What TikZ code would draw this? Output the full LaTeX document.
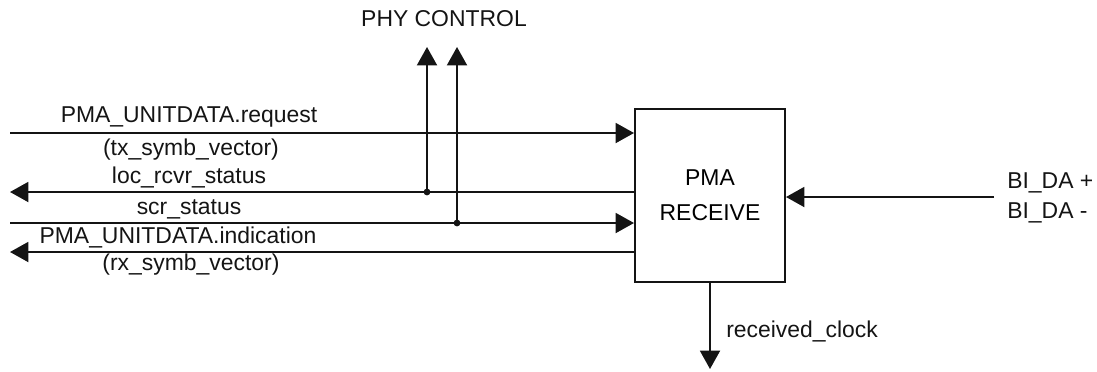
\documentclass[tikz,border=0pt]{standalone}
\usepackage{fontspec}
\setmainfont{Liberation Sans}
\usepackage{tikz}
\usetikzlibrary{positioning,arrows.meta,calc}
\definecolor{wire}{RGB}{20,20,20}
\tikzset{
  px/.style={x=0.025cm, y=-0.025cm},
  block/.style={draw=wire, line width=1.4pt, minimum width=3.75cm, minimum height=4.325cm,
                align=center, inner sep=0pt, font=\fontsize{16.3}{24.8}\selectfont},
  sig/.style={-{Triangle[length=4.6mm, width=5mm]}, line width=1.4pt, wire},
  lbl/.style={font=\fontsize{16.3}{21.3}\selectfont, inner sep=0pt, text=wire},
  tap/.style={circle, fill=wire, inner sep=0pt, minimum size=1.7mm}
}

\begin{document}
\begin{tikzpicture}[px]
\useasboundingbox (0,0) rectangle (1097,371);
\node[block] (pma) at (710,195.5) {PMA\\RECEIVE};
% left side signals
\coordinate (reqL) at (10,133);
\coordinate (locL) at (10,192);
\coordinate (scrL) at (10,223);
\coordinate (indL) at (10,252);
\draw[sig] (reqL) -- (reqL -| pma.west);
\draw[sig] (locL -| pma.west) -- (locL);
\draw[sig] (scrL) -- (scrL -| pma.west);
\draw[sig] (indL -| pma.west) -- (indL);
% phy control taps
\node[tap] (tapA) at (427,192) {};
\node[tap] (tapB) at (457,223) {};
\coordinate (ctlA) at (427,47);
\coordinate (ctlB) at (457,47);
\draw[sig] (tapA.center) -- (ctlA);
\draw[sig] (tapB.center) -- (ctlB);
\node[lbl, anchor=base] (phyctl) at (444,26) {PHY CONTROL};
% line side and clock
\node[lbl, anchor=west, align=left] (bida) at (1007,198) {BI\_DA +\\BI\_DA -};
\coordinate (biR) at (994,197);
\draw[sig] (biR) -- (biR -| pma.east);
\coordinate (clk) at (710,369);
\draw[sig] (pma.south) -- (clk);
\node[lbl, anchor=base west] (clktxt) at (726,337) {received\_clock};
% signal names
\node[lbl, anchor=base] (reqtxt) at (189,122) {PMA\_UNITDATA.request};
\node[lbl, anchor=base] (txtxt) at (191,155) {(tx\_symb\_vector)};
\node[lbl, anchor=base] (loctxt) at (189,183) {loc\_rcvr\_status};
\node[lbl, anchor=base] (scrtxt) at (189,214) {scr\_status};
\node[lbl, anchor=base] (indtxt) at (178,243) {PMA\_UNITDATA.indication};
\node[lbl, anchor=base] (rxtxt) at (191,270) {(rx\_symb\_vector)};
\end{tikzpicture}
\end{document}
